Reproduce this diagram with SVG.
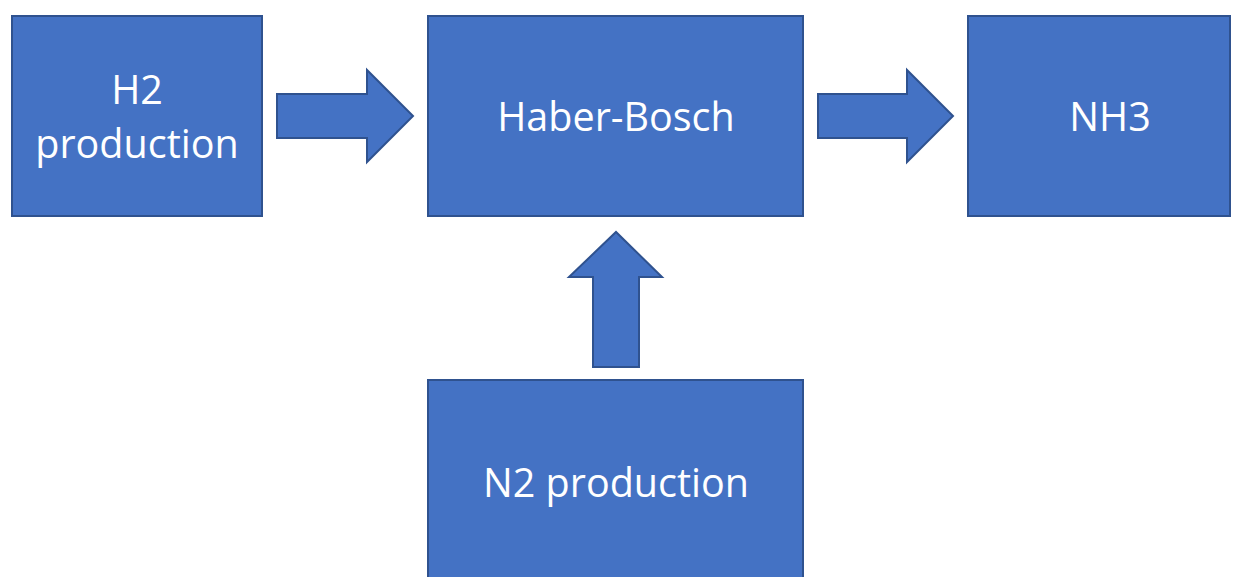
<svg xmlns="http://www.w3.org/2000/svg" width="1243" height="577" viewBox="0 0 1243 577">
<style>
.box{fill:#4472C4;stroke:#2F528F;stroke-width:2}
.arr{fill:#4472C4;stroke:#2F528F;stroke-width:2;stroke-linejoin:miter}
.t{font-family:"Open Sans","Noto Sans",sans-serif;font-size:39.5px;fill:#fff;text-anchor:middle}
</style>
<rect width="1243" height="577" fill="#fff"/>
<g id="h2">
<rect class="box" x="12" y="16" width="250" height="200"/>
<text class="t" x="137" y="104">H2</text>
<text class="t" x="137" y="158">production</text>
</g>
<g id="haber">
<rect class="box" x="428" y="16" width="375" height="200"/>
<text class="t" x="616" y="131">Haber-Bosch</text>
</g>
<g id="nh3">
<rect class="box" x="968" y="16" width="262" height="200"/>
<text class="t" x="1110" y="131">NH3</text>
</g>
<g id="n2">
<rect class="box" x="428" y="380" width="375" height="210"/>
<text class="t" x="616" y="497">N2 production</text>
</g>
<g id="connectors">
<polygon class="arr" points="277,94 367,94 367,70 413,116 367,162 367,138 277,138"/>
<polygon class="arr" points="818,94 907,94 907,70 953,116 907,162 907,138 818,138"/>
<polygon class="arr" points="593,367 593,277 569,277 616,232 662,277 639,277 639,367"/>
</g>
</svg>
